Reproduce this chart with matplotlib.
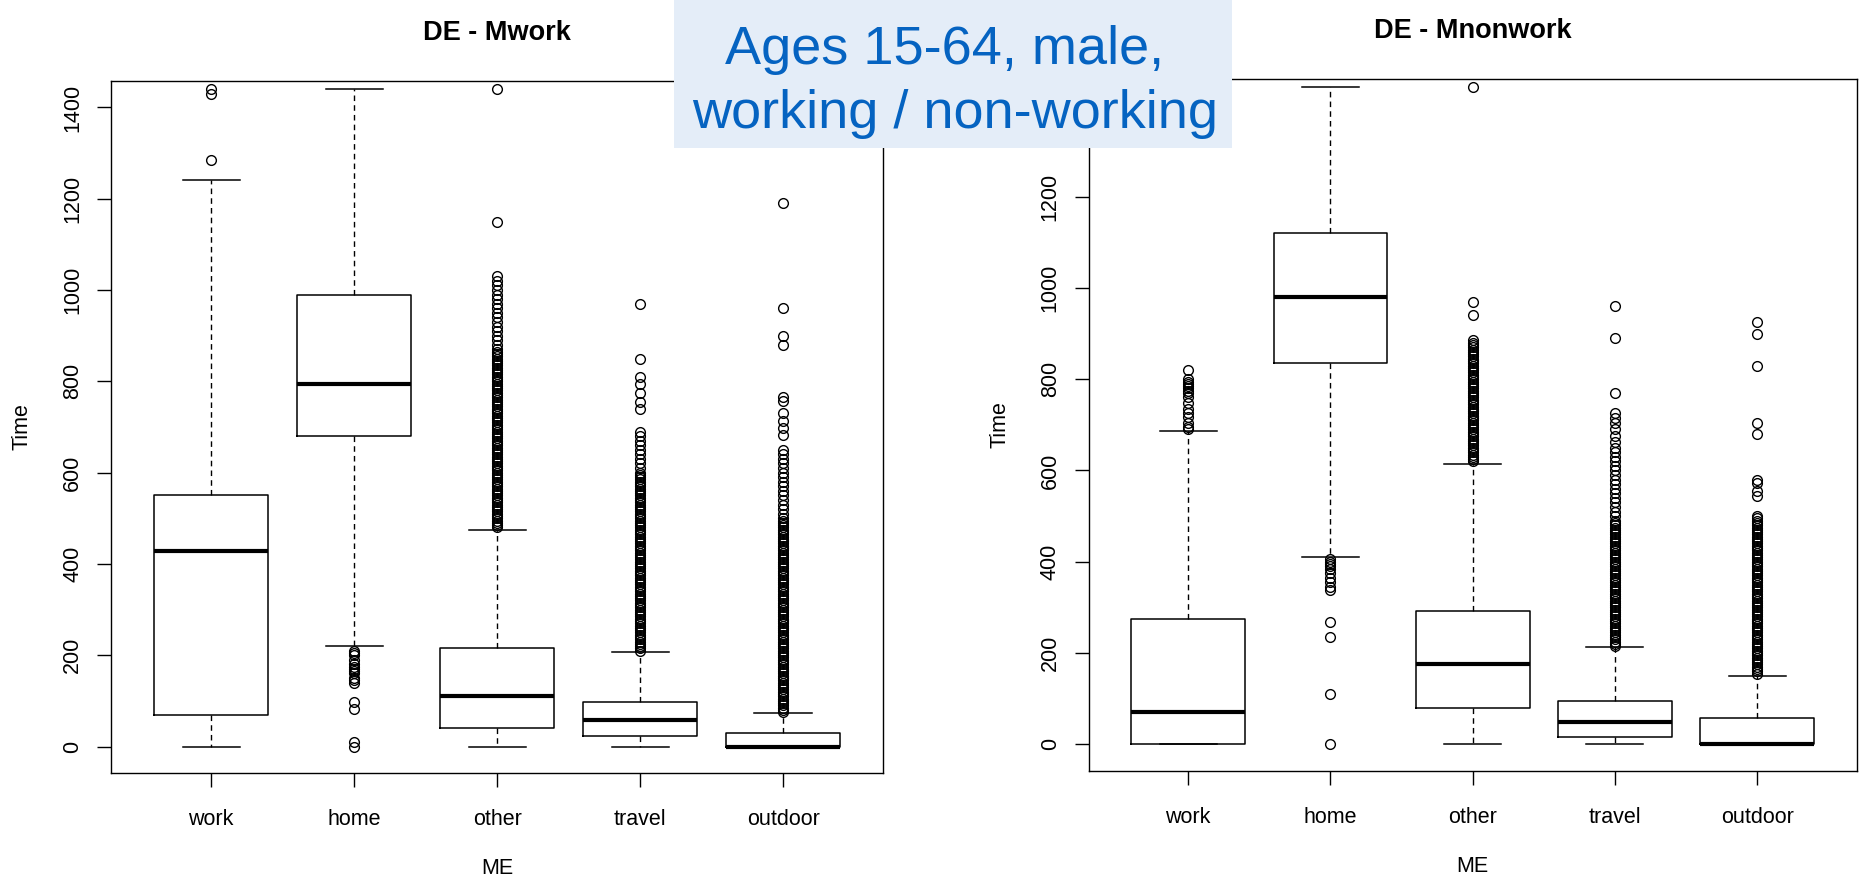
import matplotlib
matplotlib.use("Agg")
import matplotlib.pyplot as plt
from matplotlib.patches import Rectangle

plt.rcParams['font.family'] = ['Liberation Sans', 'DejaVu Sans']
plt.rcParams['lines.scale_dashes'] = False

categories = ["work", "home", "other", "travel", "outdoor"]
titles = ["DE - Mwork", "DE - Mnonwork"]
y_ticks_left = [0, 200, 400, 600, 800, 1000, 1200, 1400]
y_ticks_right = [0, 200, 400, 600, 800, 1000, 1200]  # 1400 sits under the caption box

# DE - Mwork: box stats per category (minutes)
mwork_lo = [0, 220, 0, 0, 0]
mwork_q1 = [70, 680, 40, 24, 0]
mwork_med = [428, 795, 110, 58, 0]
mwork_q3 = [550, 990, 215, 97, 30]
mwork_hi = [1240, 1440, 475, 208, 73]

mwork_work_out = [1285, 1430, 1440]
mwork_home_out = [0, 10, 82, 98, 140, 145, 150, 160, 165, 170, 175, 180, 190, 200, 205, 210]
mwork_other_out = [
    480, 485, 490, 495, 500, 505, 510, 515, 520, 525, 530, 535, 540, 545, 550, 555, 560, 565, 570, 575,
    580, 585, 590, 595, 600, 605, 610, 615, 620, 625, 630, 635, 640, 645, 650, 655, 660, 665, 670, 675,
    680, 685, 690, 695, 700, 705, 710, 715, 720, 725, 730, 735, 740, 745, 750, 755, 760, 765, 770, 775,
    780, 785, 790, 795, 800, 805, 810, 815, 820, 825, 830, 835, 840, 845, 850, 855, 860, 865, 870,
    880, 890, 900, 910, 920, 930, 940, 950, 960, 970, 980, 990, 1000, 1010, 1020, 1030, 1150, 1440]
mwork_travel_out = [
    210, 215, 220, 225, 230, 235, 240, 245, 250, 255, 260, 265, 270, 275, 280, 285, 290, 295, 300, 305,
    310, 315, 320, 325, 330, 335, 340, 345, 350, 355, 360, 365, 370, 375, 380, 385, 390, 395, 400, 405,
    410, 415, 420, 425, 430, 435, 440, 445, 450, 455, 460, 465, 470, 475, 480, 485, 490, 495, 500, 505,
    510, 515, 520, 525, 530, 535, 540, 545, 550, 555, 560, 565, 570, 575, 580, 585, 590, 595, 600,
    610, 620, 630, 640, 650, 660, 670, 680, 690, 740, 755, 775, 795, 810, 850, 970]
mwork_outdoor_out = [
    75, 80, 85, 90, 95, 100, 105, 110, 115, 120, 125, 130, 135, 140, 145, 150, 155, 160, 165, 170,
    175, 180, 185, 190, 195, 200, 205, 210, 215, 220, 225, 230, 235, 240, 245, 250, 255, 260, 265, 270,
    275, 280, 285, 290, 295, 300, 305, 310, 315, 320, 325, 330, 335, 340, 345, 350, 355, 360, 365, 370,
    375, 380, 385, 390, 395, 400, 405, 410, 415, 420, 425, 430, 435, 440, 445, 450, 455, 460, 465, 470,
    475, 480, 485, 490, 495, 500, 510, 520, 530, 540, 550, 560, 570, 580, 590, 600, 610, 620, 630, 640,
    650, 683, 698, 712, 730, 757, 765, 880, 900, 960, 1190]

# DE - Mnonwork
mnon_lo = [0, 410, 0, 0, 0]
mnon_q1 = [0, 836, 80, 15, 0]
mnon_med = [70, 980, 175, 48, 0]
mnon_q3 = [275, 1120, 293, 95, 58]
mnon_hi = [686, 1440, 615, 213, 150]

mnon_work_out = [690, 696, 705, 717, 725, 735, 748, 760, 770, 775, 780, 785, 790, 795, 800, 820]
mnon_home_out = [0, 110, 235, 268, 337, 345, 355, 365, 375, 385, 390, 395, 400, 405]
mnon_other_out = [
    620, 625, 630, 635, 640, 645, 650, 655, 660, 665, 670, 675, 680, 685, 690, 695, 700, 705, 710, 715,
    720, 725, 730, 735, 740, 745, 750, 755, 760, 765, 770, 775, 780, 785, 790, 795, 800, 805, 810, 815,
    820, 825, 830, 835, 840, 845, 850, 855, 860, 865, 870, 875, 880, 885, 940, 970, 1440]
mnon_travel_out = [
    215, 220, 225, 230, 235, 240, 245, 250, 255, 260, 265, 270, 275, 280, 285, 290, 295, 300, 305, 310,
    315, 320, 325, 330, 335, 340, 345, 350, 355, 360, 365, 370, 375, 380, 385, 390, 395, 400, 405, 410,
    415, 420, 425, 430, 435, 440, 445, 450, 455, 460, 465, 470, 475, 480, 485,
    490, 500, 510, 520, 530, 540, 550, 560, 570, 580, 590, 600, 610, 620, 630, 641, 650, 662, 675, 690,
    705, 715, 727, 770, 891, 961]
mnon_outdoor_out = [
    155, 160, 165, 170, 175, 180, 185, 190, 195, 200, 205, 210, 215, 220, 225, 230, 235, 240, 245, 250,
    255, 260, 265, 270, 275, 280, 285, 290, 295, 300, 305, 310, 315, 320, 325, 330, 335, 340, 345, 350,
    355, 360, 365, 370, 375, 380, 385, 390, 395, 400, 405, 410, 415, 420, 425, 430, 435, 440, 445, 450,
    455, 460, 465, 470, 475, 480, 485, 490, 495, 500, 545, 555, 572, 580, 681, 703, 829, 900, 926]

panels = [
    (mwork_lo, mwork_q1, mwork_med, mwork_q3, mwork_hi,
     [mwork_work_out, mwork_home_out, mwork_other_out, mwork_travel_out, mwork_outdoor_out]),
    (mnon_lo, mnon_q1, mnon_med, mnon_q3, mnon_hi,
     [mnon_work_out, mnon_home_out, mnon_other_out, mnon_travel_out, mnon_outdoor_out]),
]

fig = plt.figure(figsize=(18.64, 8.82), dpi=100)
axes_rects = [[0.0596, 0.1236, 0.4142, 0.7846], [0.5840, 0.1262, 0.4121, 0.7842]]
tick_sets = [y_ticks_left, y_ticks_right]

for rect, title, yt, (lo, q1, med, q3, hi, fl) in zip(axes_rects, titles, tick_sets, panels):
    ax = fig.add_axes(rect)
    stats = []
    for i, name in enumerate(categories):
        stats.append(dict(label=name, whislo=lo[i], q1=q1[i], med=med[i],
                          q3=q3[i], whishi=hi[i], fliers=fl[i]))
    ax.bxp(stats, positions=[1, 2, 3, 4, 5], widths=0.8, capwidths=0.4,
           boxprops=dict(color='black', linewidth=1.1),
           medianprops=dict(color='black', linewidth=3.0, solid_capstyle='butt'),
           whiskerprops=dict(color='black', linewidth=1.0, linestyle=(0, (4, 3))),
           capprops=dict(color='black', linewidth=1.1),
           flierprops=dict(marker='o', markerfacecolor='none', markeredgecolor='black',
                           markersize=7, markeredgewidth=1.0, linestyle='none'))
    ax.set_xlim(0.3, 5.7)
    ax.set_ylim(-58, 1458)
    ax.set_yticks(yt)
    ax.set_yticklabels([str(t) for t in yt], rotation=90, va='center', fontsize=15.5)
    ax.set_xticks([1, 2, 3, 4, 5])
    ax.set_xticklabels(categories, fontsize=15.5)
    ax.tick_params(axis='both', direction='out', length=10, width=1.0, color='black')
    ax.tick_params(axis='y', pad=10)
    ax.tick_params(axis='x', pad=16)
    for sp in ax.spines.values():
        sp.set_linewidth(1.0)
    ax.set_xlabel("ME", fontsize=15.5, va='center')
    ax.xaxis.set_label_coords(0.5, -0.138)
    ax.set_ylabel("Time", fontsize=15.5, va='center')
    ax.yaxis.set_label_coords(-0.1153, 0.5)
    ax.text(0.5, 1.069, title, transform=ax.transAxes, ha='center', va='center',
            fontsize=19.5, fontweight='bold')

# overlay caption box
fig.patches.append(Rectangle((674 / 1864, 1 - 148 / 882), 558 / 1864, 148 / 882,
                             transform=fig.transFigure, facecolor='#E4EDF8',
                             edgecolor='none', zorder=10))
fig.text(945 / 1864, 1 - 50 / 882, "Ages 15-64, male,", ha='center', va='center',
         fontsize=39, color='#0563C1', zorder=11)
fig.text(955 / 1864, 1 - 114 / 882, "working / non-working", ha='center', va='center',
         fontsize=39, color='#0563C1', zorder=11)

fig.savefig("out.png", dpi=100)
